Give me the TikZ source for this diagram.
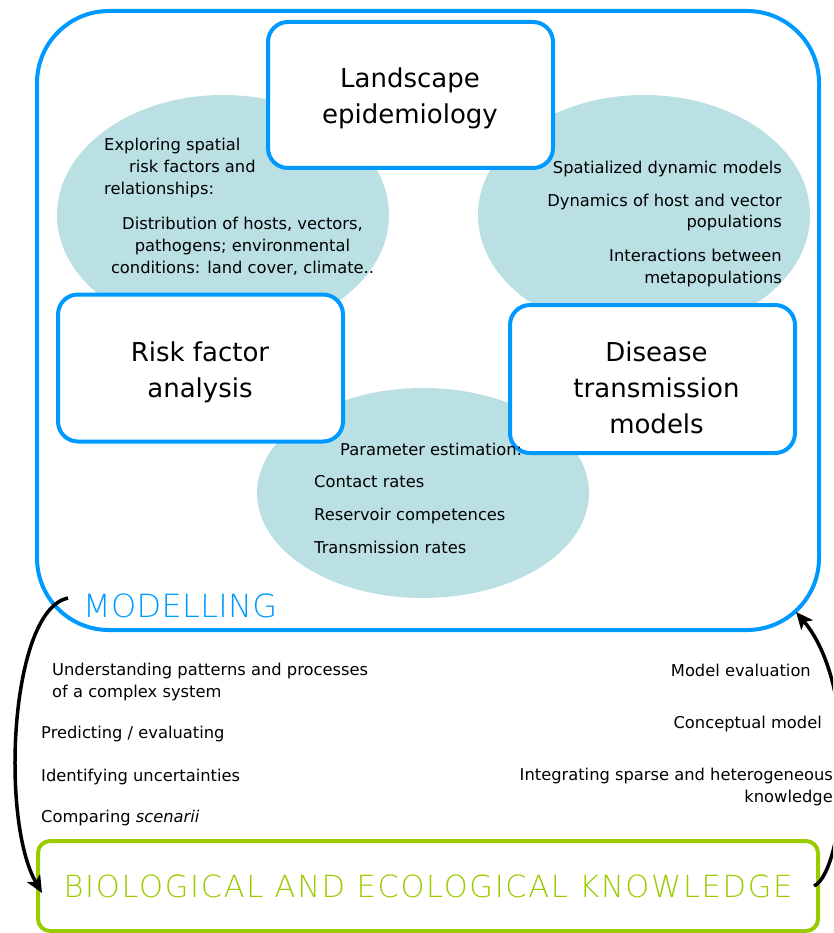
\documentclass[tikz,border=0pt]{standalone}
\usepackage{fontspec}
\setmainfont{DejaVu Sans}
\newfontfamily\modfont{DejaVu Sans ExtraLight}[LetterSpace=1]
\newfontfamily\biofont{DejaVu Sans ExtraLight}[LetterSpace=5.5]
\usetikzlibrary{arrows.meta,shapes.geometric}
\definecolor{modblue}{HTML}{0099FF}
\definecolor{biogreen}{HTML}{99CC00}
\definecolor{blobfill}{HTML}{BAE0E4}
\tikzset{
  modframe/.style={draw=modblue, line width=4pt, rounded corners=72pt, inner sep=0pt},
  kframe/.style={draw=biogreen, line width=4pt, rounded corners=12pt, inner sep=0pt,
    text=biogreen, font=\biofont\fontsize{30.5}{30.5}\selectfont},
  topic/.style={draw=modblue, line width=4pt, fill=white, rounded corners=20pt,
    minimum width=285pt, inner sep=0pt},
  blob/.style={ellipse, fill=blobfill, inner sep=0pt, minimum width=332pt},
  heading/.style={font=\fontsize{26}{36}\selectfont, align=center, anchor=base, inner sep=0pt},
  remark/.style={font=\fontsize{16.3}{22}\selectfont, inner sep=0pt},
  feedback/.style={-{Stealth[length=17pt, width=15pt, inset=4pt]}, line width=3.5pt},
}

\begin{document}
\begin{tikzpicture}[x=1pt, y=-1pt]
\useasboundingbox (0,0) rectangle (833,933);
\clip (0,0) rectangle (833,933);

\node[blob, minimum height=240pt] (explore) at (223,215) {};
\node[blob, minimum height=240pt] (dynamics) at (644,215) {};
\node[blob, minimum height=210pt] (params) at (423,493) {};

\node[modframe, minimum width=782pt, minimum height=619pt] (modelling) at (428,320.5) {};
\node[topic, minimum height=146pt] (landscape) at (410.5,95) {};
\node[topic, minimum height=147pt] (riskbox) at (200.5,368) {};
\node[topic, minimum height=148pt] (transbox) at (652.5,379) {};
\node[kframe, minimum width=780pt, minimum height=90pt] (knowledge) at (428,886) {BIOLOGICAL AND ECOLOGICAL KNOWLEDGE};

% multi-line nodes sit on the baseline of their last line
\node[heading] (landscape-t) at (410,124) {Landscape\\epidemiology};
\node[heading] (risk-t) at (200,397) {Risk factor\\analysis};
\node[heading] (trans-t) at (656.5,433) {Disease\\transmission\\models};

\node[remark, align=left, anchor=base west] (explore-a) at (104,195) {Exploring spatial\\\hspace*{25pt}risk factors and\\relationships:};
\node[remark, align=center, anchor=base] (explore-b) at (242.5,273) {Distribution of hosts, vectors,\\pathogens; environmental\\conditions: land cover, climate..};
\node[remark, align=right, anchor=base east] (dynamics-t) at (782,283) {Spatialized dynamic models\\[11pt]Dynamics of host and vector\\populations\\[11pt]Interactions between\\metapopulations};
\node[remark, anchor=base west] (params-a) at (340,455) {Parameter estimation:};
\node[remark, align=left, anchor=base west] (params-b) at (314,553) {Contact rates\\[11pt]Reservoir competences\\[11pt]Transmission rates};

\node[anchor=base west, inner sep=0pt, text=modblue, font=\modfont\fontsize{32}{32}\selectfont] (modlabel) at (83,617) {MODELLING};

\node[remark, align=left, anchor=base west] (understand) at (52,697) {Understanding patterns and processes\\of a complex system};
\node[remark, anchor=base west] (predict) at (41,738) {Predicting / evaluating};
\node[remark, anchor=base west] (uncertain) at (41,781) {Identifying uncertainties};
\node[remark, anchor=base west] (compare) at (41,822) {Comparing \textit{scenarii}};
\node[remark, anchor=base east] (evaluation) at (811,676) {Model evaluation};
\node[remark, anchor=base east] (concept) at (822,728) {Conceptual model};
\node[remark, align=right, anchor=base east] (integrate) at (833,802) {Integrating sparse and heterogeneous\\knowledge};

\coordinate (modtail) at (68,598);
\coordinate (modhead) at (796,612);
\draw[feedback] (modtail) .. controls (10,610) and (0,820) .. ([xshift=6pt, yshift=-7pt]knowledge.west);
\draw[feedback] ([xshift=-6pt]knowledge.east) .. controls (845,872) and (862,690) .. (modhead);

\end{tikzpicture}
\end{document}
